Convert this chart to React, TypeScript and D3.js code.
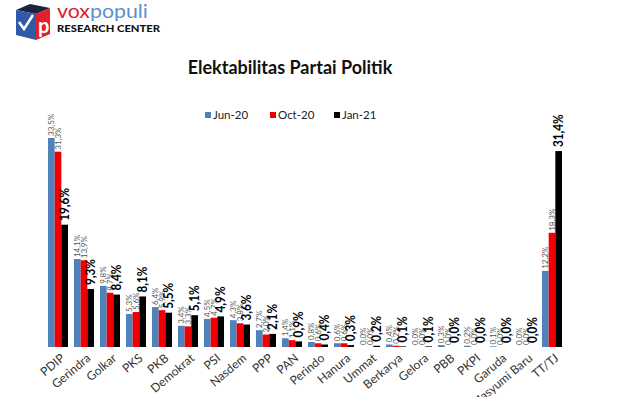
import { useEffect, useRef } from 'react';
import * as d3 from 'd3';

const parties = [
  'PDIP', 'Gerindra', 'Golkar', 'PKS', 'PKB', 'Demokrat', 'PSI', 'Nasdem', 'PPP', 'PAN',
  'Perindo', 'Hanura', 'Ummat', 'Berkarya', 'Gelora', 'PBB', 'PKPI', 'Garuda', 'Masyumi Baru', 'TT/TJ',
];
const seriesNames = ['Jun-20', 'Oct-20', 'Jan-21'];
const jun20 = [33.5, 14.1, 9.8, 5.3, 6.4, 3.4, 4.5, 4.3, 2.7, 1.4, 0.8, 0.6, 0.0, 0.4, 0.0, 0.3, 0.2, 0.1, 0.0, 12.2];
const oct20 = [31.3, 13.9, 8.7, 5.6, 5.9, 3.3, 4.7, 3.8, 2.0, 1.1, 0.6, 0.6, 0.0, 0.2, 0.0, 0.0, 0.0, 0.0, 0.0, 18.3];
const jan21 = [19.6, 9.3, 8.4, 8.1, 5.5, 5.1, 4.9, 3.6, 2.1, 0.9, 0.4, 0.3, 0.2, 0.1, 0.1, 0.0, 0.0, 0.0, 0.0, 31.4];
const colors = ['#4f81bd', '#f00000', '#000000'];

const W = 624;
const H = 397;
const FONT = 'Lato, "Open Sans", sans-serif';

export default function App() {
  const svgRef = useRef<SVGSVGElement>(null);

  useEffect(() => {
    if (!svgRef.current) return;
    const svg = d3.select(svgRef.current);
    svg.selectAll('*').remove();

    svg.append('rect').attr('width', W).attr('height', H).attr('fill', '#ffffff');

    // logo
    const logo = svg.append('g');
    logo.append('path').attr('d', 'M16,10 L30,4 L50,8 L36,14 Z').attr('fill', '#1c2340');
    logo.append('path').attr('d', 'M16,10 L36,14 L36,40 L16,35 Z').attr('fill', '#2f5aa8');
    logo.append('path').attr('d', 'M36,14 L50,8 L50,34 L36,40 Z').attr('fill', '#e0202a');
    logo.append('path').attr('d', 'M19,22 L24,29 L33,15').attr('fill', 'none')
      .attr('stroke', '#ffffff').attr('stroke-width', 2.5);
    logo.append('text').attr('x', 38).attr('y', 33).attr('font-family', FONT)
      .attr('font-size', 20).attr('font-weight', 700).attr('fill', '#ffffff').text('p');
    const brand = logo.append('text').attr('x', 57).attr('y', 18).attr('font-family', FONT)
      .attr('font-size', 19).attr('textLength', 91).attr('lengthAdjust', 'spacingAndGlyphs');
    brand.append('tspan').attr('fill', '#e0202a').text('vox');
    brand.append('tspan').attr('fill', '#5b8fd0').text('populi');
    logo.append('text').attr('x', 57).attr('y', 32).attr('font-family', FONT)
      .attr('font-size', 10).attr('font-weight', 900).attr('fill', '#111')
      .attr('textLength', 103).attr('lengthAdjust', 'spacingAndGlyphs').text('RESEARCH CENTER');

    // title
    svg.append('text').attr('x', 290).attr('y', 74).attr('text-anchor', 'middle')
      .attr('font-family', FONT).attr('font-size', 18).attr('font-weight', 700).attr('fill', '#111')
      .text('Elektabilitas Partai Politik');

    // legend
    const legendX = [205, 270, 334];
    seriesNames.forEach((name, i) => {
      svg.append('rect').attr('x', legendX[i]).attr('y', 112).attr('width', 6).attr('height', 6)
        .attr('fill', colors[i]);
      svg.append('text').attr('x', legendX[i] + 8).attr('y', 119).attr('font-family', FONT)
        .attr('font-size', 11.5).attr('fill', '#222').text(name);
    });

    const x0 = d3.scaleBand<string>().domain(parties).range([45, 565])
      .paddingInner(0.23).paddingOuter(0.115);
    const x1 = d3.scaleBand<string>().domain(seriesNames).range([0, x0.bandwidth()]);
    const y = d3.scaleLinear().domain([0, 35]).range([347, 347 - 35 * 6.24]);

    const allSeries = [jun20, oct20, jan21];
    const fmt = (v: number) => v.toFixed(1).replace('.', ',') + '%';

    const groups = svg.append('g').selectAll('g')
      .data(parties)
      .enter()
      .append('g')
      .attr('transform', d => `translate(${x0(d)},0)`);

    groups.each(function (_, pi) {
      const g = d3.select(this);
      seriesNames.forEach((s, si) => {
        const v = allSeries[si][pi];
        const bx = x1(s)!;
        const top = y(v);
        g.append('rect')
          .attr('x', bx)
          .attr('y', top)
          .attr('width', x1.bandwidth())
          .attr('height', Math.max(0, y(0) - top))
          .attr('fill', colors[si]);
        const bold = si === 2;
        g.append('text')
          .attr('transform', `translate(${bx + x1.bandwidth() / 2},${top - (bold ? 4 : 2)}) rotate(-90) scale(${bold ? 0.9 : 1},1)`)
          .attr('dy', '0.35em')
          .attr('font-family', FONT)
          .attr('font-size', bold ? 13 : 8)
          .attr('font-weight', bold ? 700 : 400)
          .attr('fill', bold ? '#000' : '#555')
          .text(fmt(v));
      });
    });

    // category labels
    svg.append('g').selectAll('text')
      .data(parties)
      .enter()
      .append('text')
      .attr('transform', d => `translate(${x0(d)! + x0.bandwidth() / 2 + 2},353) rotate(-40)`)
      .attr('text-anchor', 'end')
      .attr('dy', '0.7em')
      .attr('font-family', FONT)
      .attr('font-size', 12)
      .attr('fill', '#333')
      .text(d => d);
  }, []);

  return (
    <svg
      ref={svgRef}
      width={W}
      height={H}
      style={{ display: 'block', position: 'absolute', left: 0, top: 0 }}
    />
  );
}
